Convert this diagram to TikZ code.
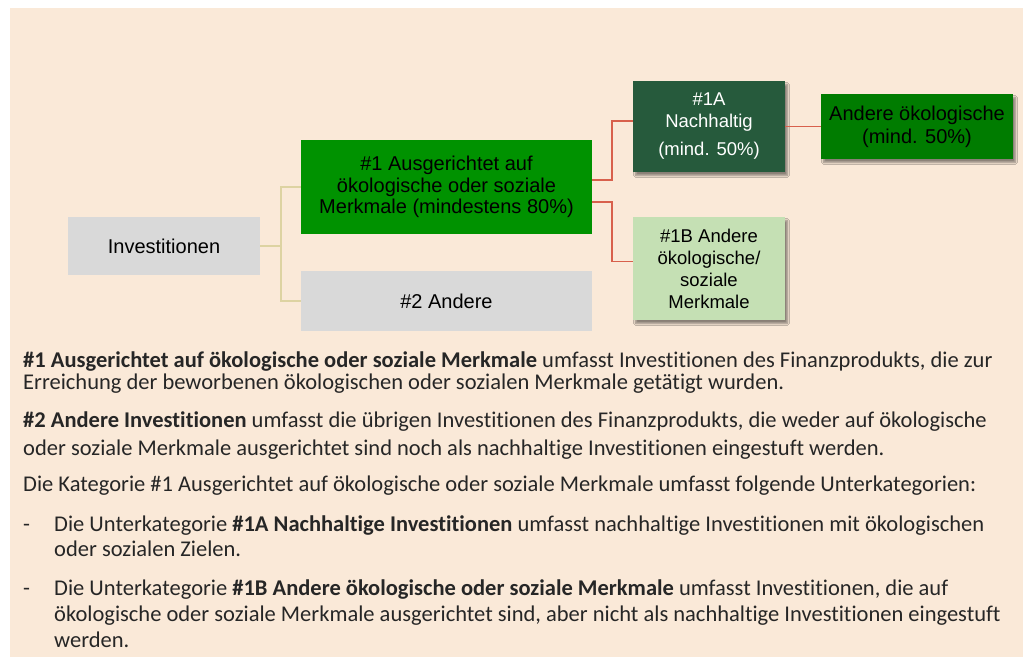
\documentclass[tikz,border=0pt]{standalone}
\usepackage{fontspec}
\setmainfont{Carlito}[Ligatures={NoCommon}]
\newfontfamily\boxfont{Liberation Sans}
\usetikzlibrary{shadows.blur,calc}
\definecolor{bgpeach}{HTML}{FAE9D8}
\definecolor{boxgrey}{HTML}{D9D9D9}
\definecolor{greenA}{HTML}{009200}
\definecolor{greenDark}{HTML}{265A3C}
\definecolor{greenB}{HTML}{007C00}
\definecolor{greenLight}{HTML}{C5E0B4}
\definecolor{tanline}{HTML}{DDD3A2}
\definecolor{redline}{HTML}{D8604C}
\definecolor{bodytext}{HTML}{262626}
\begin{document}
\begin{tikzpicture}[x=1pt,y=-1pt,
  catbox/.style={inner sep=0pt, align=center, font=\boxfont\fontsize{20}{21.5}\selectfont, text=black},
  smallbox/.style={catbox, font=\boxfont\fontsize{18.5}{22}\selectfont,
     blur shadow={shadow xshift=2.5pt, shadow yshift=-3.5pt, shadow blur steps=6, shadow opacity=45}},
  tanconn/.style={draw=tanline, line width=2pt},
  redconn/.style={draw=redline, line width=1.8pt},
  bodyline/.style={anchor=base west, inner sep=0pt, text=bodytext, font=\fontsize{22.5}{24}\selectfont}]
\useasboundingbox (0,0) rectangle (1029,659);
\fill[white] (0,0) rectangle (1029,659);
\fill[bgpeach] (10,8) rectangle (1023,657);

% boxes
\node[catbox, fill=boxgrey, minimum width=192pt, minimum height=58pt] (inv) at (164,246) {Investitionen};
\node[catbox, fill=greenA, minimum width=291pt, minimum height=94pt] (g1) at (446.5,187)
  {\#1 Ausgerichtet auf\\ökologische oder soziale\\Merkmale (mindestens 80\%)};
\node[catbox, fill=boxgrey, minimum width=291pt, minimum height=60pt] (g2) at (446.5,301) {\#2 Andere};
\node[smallbox, fill=greenDark, text=white, minimum width=152pt, minimum height=91pt] (a1) at (709,126.5)
  {\#1A\\Nachhaltig\\[6pt](mind. 50\%)};
\node[smallbox, fill=greenB, font=\boxfont\fontsize{20}{23}\selectfont, minimum width=192pt, minimum height=65pt] (a2) at (917,126.5)
  {Andere ökologische\\(mind. 50\%)};
\node[smallbox, fill=greenLight, minimum width=152pt, minimum height=103pt] (b1) at (709,268.5)
  {\#1B Andere\\ökologische/\\soziale\\Merkmale};

% connectors
\draw[tanconn] (inv.east) -- ++(21,0) |- (g1.west);
\draw[tanconn] (inv.east) -- ++(21,0) |- (g2.west);
\draw[redconn] ([yshift=7pt]g1.east) -- ++(20,0) |- ([yshift=5.5pt]a1.west);
\draw[redconn] ([yshift=-15pt]g1.east) -- ++(20,0) |- ([yshift=7pt]b1.west);
\draw[redconn] (a1.east) -- (a2.west);

% body text
\node[bodyline] (l1) at (23,367.7) {\textbf{\#1 Ausgerichtet auf ökologische oder soziale Merkmale} umfasst Investitionen des Finanzprodukts, die zur};
\node[bodyline] (l2) at (23,389.7) {Erreichung der beworbenen ökologischen oder sozialen Merkmale getätigt wurden.};
\node[bodyline] (l3) at (23,427.7) {\textbf{\#2 Andere Investitionen} umfasst die übrigen Investitionen des Finanzprodukts, die weder auf ökologische};
\node[bodyline] (l4) at (23,455) {oder soziale Merkmale ausgerichtet sind noch als nachhaltige Investitionen eingestuft werden.};
\node[bodyline] (l5) at (23,491.7) {Die Kategorie \#1 Ausgerichtet auf ökologische oder soziale Merkmale umfasst folgende Unterkategorien:};
\node[bodyline] (d1) at (23,531) {-};
\node[bodyline] (l6) at (54,531) {Die Unterkategorie \textbf{\#1A Nachhaltige Investitionen} umfasst nachhaltige Investitionen mit ökologischen};
\node[bodyline] (l7) at (54,556.7) {oder sozialen Zielen.};
\node[bodyline] (d2) at (23,595.7) {-};
\node[bodyline] (l8) at (54,595.7) {Die Unterkategorie \textbf{\#1B Andere ökologische oder soziale Merkmale} umfasst Investitionen, die auf};
\node[bodyline] (l9) at (54,621.7) {ökologische oder soziale Merkmale ausgerichtet sind, aber nicht als nachhaltige Investitionen eingestuft};
\node[bodyline] (l10) at (54,647.7) {werden.};
\end{tikzpicture}
\end{document}
